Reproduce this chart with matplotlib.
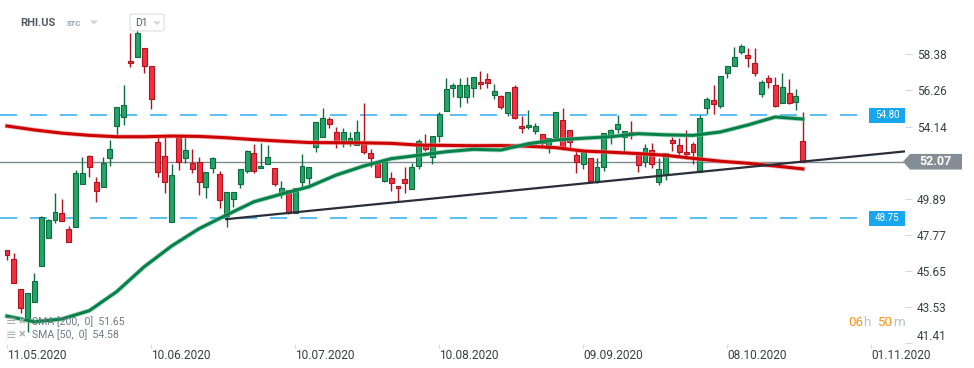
import matplotlib
matplotlib.use("Agg")
import matplotlib.pyplot as plt
import matplotlib.transforms as mtransforms
from matplotlib.patches import Rectangle, Polygon, FancyBboxPatch
import numpy as np

plt.rcParams["font.family"] = ["Roboto", "DejaVu Sans"]

# ---------------------------------------------------------------------------
# Data (RHI.US daily)
# ---------------------------------------------------------------------------
opens = [46.89, 46.36, 44.57, 42.90, 43.85, 45.96, 47.57, 48.65, 49.04, 48.12,
         48.22, 50.76, 52.41, 50.90, 50.60, 52.27, 54.19, 54.68, 57.99, 58.21,
         58.74, 57.70, 53.21, 52.41, 48.55, 53.54, 52.27, 51.98, 52.07, 50.60,
         51.69, 51.33, 48.90, 49.88, 50.75, 51.54, 52.57, 51.69, 51.92, 51.72,
         50.22, 50.41, 49.04, 50.86, 51.10, 52.95, 53.54, 54.56, 53.84, 53.15,
         53.19, 53.05, 53.25, 52.57, 52.01, 50.96, 51.10, 50.66, 51.06, 50.45,
         51.84, 52.99, 52.37, 53.58, 55.07, 56.39, 55.89, 55.89, 56.39, 56.74,
         56.91, 55.99, 55.93, 54.92, 56.45, 54.17, 54.10, 53.90, 53.70, 52.89,
         53.54, 54.52, 53.94, 52.47, 51.94, 52.27, 50.86, 51.74, 53.51, 53.98,
         53.54, 53.84, 52.60, 52.04, 52.76, 50.86, 51.29, 53.35, 53.05, 52.64,
         53.11, 51.49, 55.21, 55.70, 55.36, 57.27, 57.71, 58.54, 58.34, 57.85,
         56.03, 56.97, 56.58, 55.54, 56.09, 55.60, 53.29]
highs = [46.89, 46.69, 44.57, 44.34, 45.55, 48.90, 48.70, 50.22, 49.86, 48.31,
         51.59, 52.37, 52.45, 51.16, 52.37, 53.35, 55.30, 56.58, 59.62, 59.80,
         58.74, 57.70, 53.64, 53.54, 51.94, 53.60, 53.54, 52.80, 52.37, 51.45,
         52.37, 51.53, 50.27, 50.31, 51.65, 52.75, 53.10, 53.15, 53.05, 51.72,
         50.94, 50.41, 50.51, 52.53, 51.74, 54.42, 55.21, 54.68, 54.13, 54.04,
         53.80, 54.52, 55.54, 52.82, 52.05, 52.07, 51.45, 50.66, 51.74, 51.98,
         53.41, 53.70, 53.58, 55.01, 56.97, 56.68, 56.97, 57.03, 57.03, 57.40,
         57.27, 56.64, 55.99, 56.15, 56.58, 54.76, 55.11, 54.33, 53.70, 53.45,
         55.00, 55.21, 53.94, 52.72, 52.82, 52.27, 52.27, 53.74, 53.98, 54.82,
         53.90, 54.48, 52.60, 53.11, 53.15, 52.31, 52.57, 53.54, 53.48, 53.94,
         53.25, 54.82, 55.89, 56.58, 57.11, 57.70, 58.80, 58.99, 58.74, 58.74,
         56.87, 57.17, 57.07, 57.30, 56.93, 56.35, 54.98]
lows = [46.30, 44.93, 43.20, 42.05, 43.85, 45.96, 47.57, 48.45, 48.59, 47.34,
        48.22, 50.76, 51.16, 49.72, 50.60, 51.84, 53.64, 54.23, 57.62, 58.21,
        57.27, 55.17, 51.19, 50.22, 48.55, 51.59, 51.98, 51.39, 50.12, 49.92,
        51.39, 49.33, 48.25, 49.43, 50.55, 51.39, 51.39, 51.69, 51.92, 50.65,
        49.92, 49.00, 49.04, 50.51, 50.51, 52.66, 53.54, 54.04, 52.86, 52.92,
        52.99, 53.05, 52.51, 51.78, 51.19, 50.90, 50.37, 49.72, 50.25, 50.45,
        51.65, 52.72, 51.94, 53.25, 55.07, 55.89, 55.30, 55.54, 55.86, 56.33,
        56.39, 55.76, 55.17, 54.78, 54.60, 53.74, 53.98, 53.70, 52.95, 52.57,
        53.40, 52.76, 52.86, 51.43, 51.63, 50.81, 50.81, 51.54, 53.10, 53.74,
        52.66, 53.39, 51.49, 51.78, 51.72, 50.70, 51.00, 52.70, 52.33, 52.23,
        51.92, 51.49, 54.88, 54.88, 55.21, 57.00, 57.71, 58.40, 57.66, 57.13,
        55.89, 56.39, 55.30, 55.51, 55.45, 55.11, 52.07]
closes = [46.59, 44.93, 43.46, 44.34, 45.06, 48.84, 48.65, 49.10, 48.59, 47.34,
          51.43, 51.43, 51.74, 50.37, 51.98, 52.80, 55.27, 55.39, 57.85, 59.62,
          57.71, 55.78, 51.49, 50.90, 51.29, 52.07, 52.76, 51.63, 50.86, 51.45,
          52.27, 49.82, 50.27, 50.31, 51.65, 52.70, 51.54, 51.82, 52.33, 50.75,
          50.51, 49.04, 50.51, 51.82, 51.74, 54.42, 54.62, 54.27, 53.15, 53.80,
          53.48, 53.80, 52.63, 52.27, 51.19, 52.07, 50.81, 50.55, 50.84, 51.78,
          53.31, 52.80, 53.58, 54.86, 56.33, 56.58, 56.58, 56.58, 57.03, 56.62,
          56.72, 56.23, 55.30, 56.15, 54.62, 54.04, 54.23, 54.17, 53.19, 53.45,
          54.98, 52.95, 53.21, 52.07, 52.70, 50.96, 51.74, 53.74, 53.94, 54.29,
          53.90, 53.68, 51.88, 52.86, 51.92, 51.63, 52.57, 53.16, 52.66, 52.51,
          52.66, 54.62, 55.74, 55.45, 57.11, 57.70, 58.21, 58.87, 58.15, 57.27,
          56.74, 56.74, 55.36, 56.45, 55.51, 55.93, 52.07]

sma_idx = [0, 4, 8, 12, 16, 20, 24, 28, 32, 36, 40, 44, 48, 52, 56,
           60, 64, 68, 72, 76, 80, 84, 88, 92, 96, 100, 104, 108, 112, 116]
sma50 = [43.00, 42.67, 42.83, 43.32, 44.44, 45.90, 47.12, 48.14, 48.94, 49.72,
         50.17, 50.60, 51.29, 51.82, 52.25, 52.45, 52.66, 52.80, 52.76, 53.13,
         53.35, 53.45, 53.54, 53.72, 53.65, 53.62, 53.82, 54.23, 54.70, 54.58]
sma200 = [54.17, 53.94, 53.75, 53.62, 53.54, 53.54, 53.58, 53.56, 53.48, 53.37,
          53.28, 53.20, 53.19, 53.18, 53.15, 53.05, 53.03, 53.01, 53.02, 52.98,
          52.90, 52.70, 52.63, 52.55, 52.45, 52.27, 52.10, 51.98, 51.82, 51.65]

trend_idx = [31.8, 130.9]
trend_val = [48.69, 52.68]

levels = [54.80, 48.75]
last_price = 52.07

date_idx = [0, 21, 42, 63, 84, 105, 126]
date_labels = ["11.05.2020", "10.06.2020", "10.07.2020", "10.08.2020",
               "09.09.2020", "08.10.2020", "01.11.2020"]
price_ticks = [58.38, 56.26, 54.14, 49.89, 47.77, 45.65, 43.53, 41.41]

# ---------------------------------------------------------------------------
# Styling
# ---------------------------------------------------------------------------
GREEN, GREEN_EDGE = "#22a567", "#0f6b40"
RED, RED_EDGE = "#f4303e", "#b0141e"
W, H = 974, 368

fig = plt.figure(figsize=(W / 100, H / 100), dpi=100)
ax = fig.add_axes([0, 1 - 344.2 / H, 905 / W, 344.2 / H])
ax.set_xlim(-1.02, 130.9)
ax.set_ylim(41.35, 61.574)
for s in ax.spines.values():
    s.set_visible(False)

# candles
o = np.array(opens); c = np.array(closes)
idx = np.arange(len(o))
up = c >= o
fill = np.where(up, GREEN, RED)
edge = np.where(up, GREEN_EDGE, RED_EDGE)
body_lo = np.minimum(o, c)
body_h = np.maximum(np.abs(c - o), 0.05)
ax.vlines(idx, lows, highs, colors=edge, linewidth=1.0, zorder=3)
ax.bar(idx, body_h, bottom=body_lo, width=0.72, color=fill,
       edgecolor=edge, linewidth=0.8, zorder=4)

# horizontal levels
trans = mtransforms.blended_transform_factory(ax.transAxes, ax.transData)
for lvl in levels:
    ax.plot([0, 869 / 905], [lvl, lvl], transform=trans, color="#3db3f0",
            linewidth=1.2, linestyle=(0, (10.2, 7.8)), zorder=2)
    ax.add_patch(Rectangle((869 / 905, lvl - 0.44), 36 / 905, 0.88,
                           transform=trans, facecolor="#18a6ef",
                           edgecolor="none", clip_on=False, zorder=6))
    ax.text(887 / 905, lvl, f"{lvl:.2f}", transform=trans, ha="center",
            va="center", fontsize=7, color="white", zorder=7)

# last price line + marker
ax.plot([0, 903 / 905], [last_price, last_price], transform=trans,
        color="#7f8a91", linewidth=1.0, zorder=2)
ax.add_patch(Polygon([(903 / 905, last_price),
                      (910 / 905, last_price + 0.46),
                      (962 / 905, last_price + 0.46),
                      (962 / 905, last_price - 0.46),
                      (910 / 905, last_price - 0.46)],
                     closed=True, transform=trans, facecolor="#858e94",
                     edgecolor="none", clip_on=False, zorder=6))
ax.text(936 / 905, last_price, f"{last_price:.2f}", transform=trans,
        ha="center", va="center", fontsize=9, fontweight="bold",
        color="white", zorder=7)

# moving averages
ax.plot(sma_idx, sma200, color="#f09090", linewidth=3.4, alpha=0.6, zorder=5)
ax.plot(sma_idx, sma200, color="#cc0000", linewidth=2.2, zorder=5)
ax.plot(sma_idx, sma50, color="#70c09a", linewidth=3.4, alpha=0.6, zorder=5)
ax.plot(sma_idx, sma50, color="#07804a", linewidth=2.2, zorder=5)

# trend line
ax.plot(trend_idx, trend_val, color="#2a2e38", linewidth=1.6, zorder=5,
        solid_capstyle="butt")

# axes ticks
ax.yaxis.tick_right()
ax.set_yticks(price_ticks)
ax.set_yticklabels([f"{v:.2f}" for v in price_ticks])
ax.tick_params(axis="y", length=5, color="#d5d8db", width=0.8, pad=3.6,
               labelsize=8.5, labelcolor="#3a3f44")
for lab in ax.get_yticklabels():
    if lab.get_text() == "41.41":
        lab.set_va("bottom")
ax.set_xticks(date_idx)
ax.set_xticklabels(date_labels, ha="left")
ax.tick_params(axis="x", length=3, color="#d5d8db", width=0.8, pad=0.8,
               labelsize=8.6, labelcolor="#3a3f44")

# header
def fx(px):
    return px / W

def fy(py):
    return 1 - py / H

fig.text(fx(20), fy(23), "RHI.US", fontsize=8, fontweight="bold",
         color="#4f5b66", ha="left", va="center")
fig.text(fx(67), fy(24), "STC", fontsize=5.5, fontweight="bold",
         color="#8fa0b0", ha="left", va="center")
fig.patches.append(Polygon([(fx(90), fy(20.5)), (fx(98), fy(20.5)),
                            (fx(94), fy(24.5))], closed=True,
                           transform=fig.transFigure, facecolor="#cfd5da",
                           edgecolor="none"))
fig.patches.append(FancyBboxPatch((fx(130), fy(31)), 34 / W, 17 / H,
                                  boxstyle="round,pad=0,rounding_size=0.004",
                                  transform=fig.transFigure, fill=False,
                                  edgecolor="#dfe3e7", linewidth=0.9))
fig.text(fx(135), fy(23), "D1", fontsize=7.5, color="#4f5b66",
         ha="left", va="center")
fig.patches.append(Polygon([(fx(153), fy(21.5)), (fx(161), fy(21.5)),
                            (fx(157), fy(25)), ], closed=True,
                           transform=fig.transFigure, facecolor="#cfd5da",
                           edgecolor="none"))

# indicator legend
for py, txt in [(321.5, "SMA [200,  0]  51.65"), (335, "SMA [50,  0]  54.58")]:
    fig.text(fx(6), fy(py), "\u2261", fontsize=9, color="#a7aeb4",
             ha="left", va="center", family=["DejaVu Sans"], zorder=10)
    fig.text(fx(19), fy(py), "\u00d7", fontsize=9, color="#a7aeb4",
             ha="left", va="center", fontweight="bold", zorder=10)
    fig.text(fx(32), fy(py), txt, fontsize=7.6, color="#6f7a85",
             ha="left", va="center", zorder=10)

# session timer
for px, txt, col in [(848, "06", "#f7941d"), (863.5, "h", "#b8c0c6"),
                     (877, "50", "#f7941d"), (893, "m", "#b8c0c6")]:
    fig.text(fx(px), fy(323), txt, fontsize=9.6, color=col,
             ha="left", va="center")

fig.savefig("out.png", dpi=100)
